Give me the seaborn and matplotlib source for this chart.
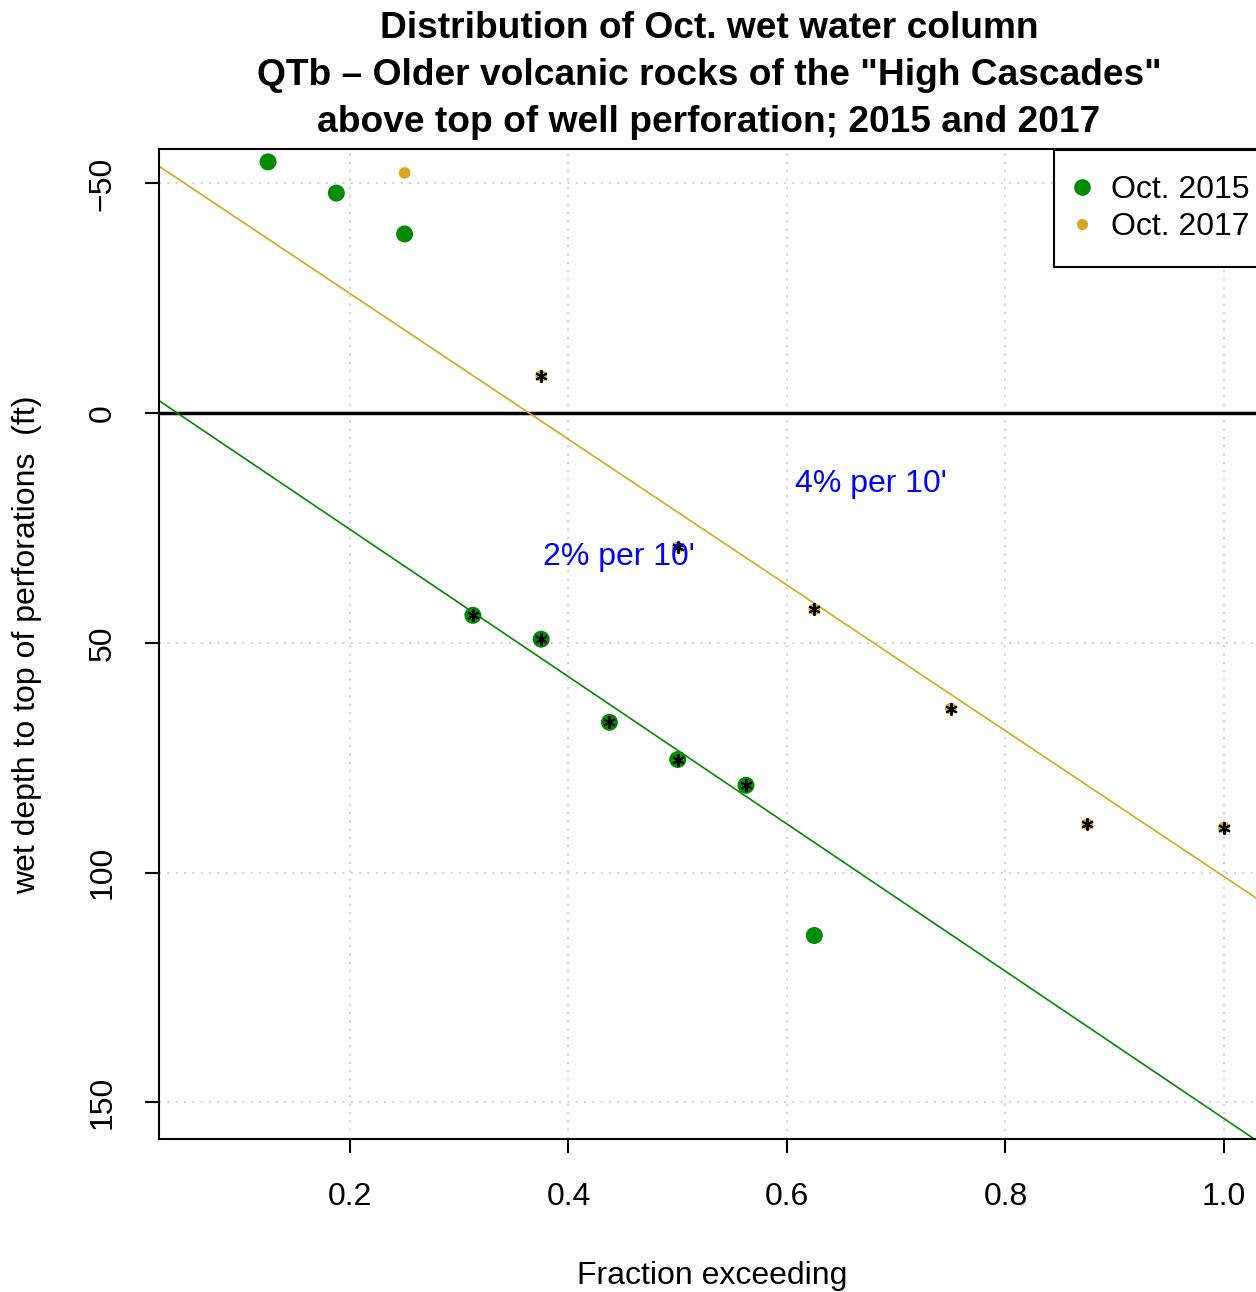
import numpy as np
import pandas as pd
import matplotlib
matplotlib.use("Agg")
import matplotlib.pyplot as plt
from matplotlib.lines import Line2D
import seaborn as sns

# Fraction of wells exceeding vs. wet water column (ft) above top of perforations
frac_2015 = [0.125, 0.1875, 0.25, 0.3125, 0.375, 0.4375, 0.5, 0.5625, 0.625]
depth_2015 = [-54.7, -47.9, -39.0, 44.0, 49.2, 67.3, 75.4, 81.0, 113.7]
fit_2015 = [False, False, False, True, True, True, True, True, False]

frac_2017 = [0.25, 0.375, 0.5, 0.625, 0.75, 0.875, 1.0]
depth_2017 = [-52.3, -8.1, 29.2, 42.7, 64.3, 89.5, 90.2]
fit_2017 = [False, True, True, True, True, True, True]

series_labels = ["Oct. 2015", "Oct. 2017"]
series_colors = ["#008B00", "#DAA520"]

x_ticks = [0.2, 0.4, 0.6, 0.8, 1.0]
y_ticks = [-50, 0, 50, 100, 150]

slope_notes = ["4% per 10'", "2% per 10'"]
note_pos = [(0.607, 15.5), (0.3767, 31.4)]

title_lines = [
    "Distribution of Oct. wet water column",
    'QTb \u2013 Older volcanic rocks of the "High Cascades"',
    "above top of well perforation; 2015 and 2017",
]

sns.set_theme(style="white")
plt.rcParams["font.family"] = ["Liberation Sans", "DejaVu Sans"]
plt.rcParams.update({"text.color": "black", "axes.labelcolor": "black",
                     "xtick.color": "black", "ytick.color": "black"})

FS = 23
W, H = 1256, 1292
fig = plt.figure(figsize=(W / 100, H / 100), dpi=100)
ax_l, ax_r, ax_t, ax_b = 159, 1262, 149, 1139
ax = fig.add_axes([ax_l / W, 1 - ax_b / H, (ax_r - ax_l) / W, (ax_b - ax_t) / H])

df15 = pd.DataFrame({"frac": frac_2015, "depth": depth_2015, "fit": fit_2015})
df17 = pd.DataFrame({"frac": frac_2017, "depth": depth_2017, "fit": fit_2017})

ax.set_xlim(0.0252, 1.0348)
ax.set_ylim(158.0, -57.5)

# dotted grid
for xv in x_ticks:
    ax.axvline(xv, color="#d3d3d3", ls=(0, (1, 3)), lw=1.5, zorder=0)
for yv in y_ticks:
    ax.axhline(yv, color="#d3d3d3", ls=(0, (1, 3)), lw=1.5, zorder=0)

ax.axhline(0, color="black", lw=2.5, zorder=1)

# points
sns.scatterplot(data=df15, x="frac", y="depth", color=series_colors[0], s=150,
                edgecolor="none", ax=ax, zorder=3, legend=False)
sns.scatterplot(data=df17, x="frac", y="depth", color=series_colors[1], s=70,
                edgecolor="none", ax=ax, zorder=3, legend=False)

# markers on the points used for the fits
for d in (df15, df17):
    sub = d[d["fit"]]
    ax.plot(sub["frac"], sub["depth"], ls="none", marker=(6, 2, 0),
            ms=9, mew=1.4, color="black", zorder=4)

# least-squares lines through the marked points
for d, c in ((df15, series_colors[0]), (df17, series_colors[1])):
    sub = d[d["fit"]]
    m, b = np.polyfit(sub["frac"], sub["depth"], 1)
    ax.axline((0, b), slope=m, color=c, lw=1.2, zorder=2)

for txt, (xx, yy) in zip(slope_notes, note_pos):
    ax.text(xx, yy, txt, color="blue", fontsize=FS, ha="left", va="center", zorder=5)

ax.set_xticks(x_ticks)
ax.set_xticklabels(["0.2", "0.4", "0.6", "0.8", "1.0"], fontsize=FS)
ax.set_yticks(y_ticks)
ax.set_yticklabels(["\u221250", "0", "50", "100", "150"], fontsize=FS,
                   rotation=90, va="center")
ax.tick_params(axis="both", direction="out", length=10, width=1.5, color="black",
               bottom=True, left=True)
ax.tick_params(axis="x", pad=21)
ax.tick_params(axis="y", pad=20)
ax.set_xlabel("")
ax.set_ylabel("")
for sp in ax.spines.values():
    sp.set_color("black")
    sp.set_linewidth(1.5)

handles = [
    Line2D([], [], ls="none", marker="o", ms=12, color=series_colors[0], mec="none"),
    Line2D([], [], ls="none", marker="o", ms=8, color=series_colors[1], mec="none"),
]
leg = fig.legend(handles, series_labels, loc="upper left",
                 bbox_to_anchor=(1054 / W, 1 - 150 / H), fontsize=FS,
                 frameon=True, fancybox=False, edgecolor="black", framealpha=1,
                 borderpad=0.78, labelspacing=0.22, handlelength=0.2,
                 handletextpad=0.8, borderaxespad=0)
leg.get_frame().set_linewidth(1.5)

title_baselines = [38, 85, 132]
for line, yb in zip(title_lines, title_baselines):
    fig.text(709 / W, 1 - yb / H, line, ha="center", va="baseline",
             fontsize=26.7, fontweight="bold")

fig.text(712 / W, 1 - 1284 / H, "Fraction exceeding", ha="center",
         va="baseline", fontsize=FS)
fig.text(27 / W, 1 - 645 / H, "wet depth to top of perforations  (ft)",
         ha="center", va="center", rotation=90, fontsize=FS)

fig.savefig("out.png", dpi=100)
